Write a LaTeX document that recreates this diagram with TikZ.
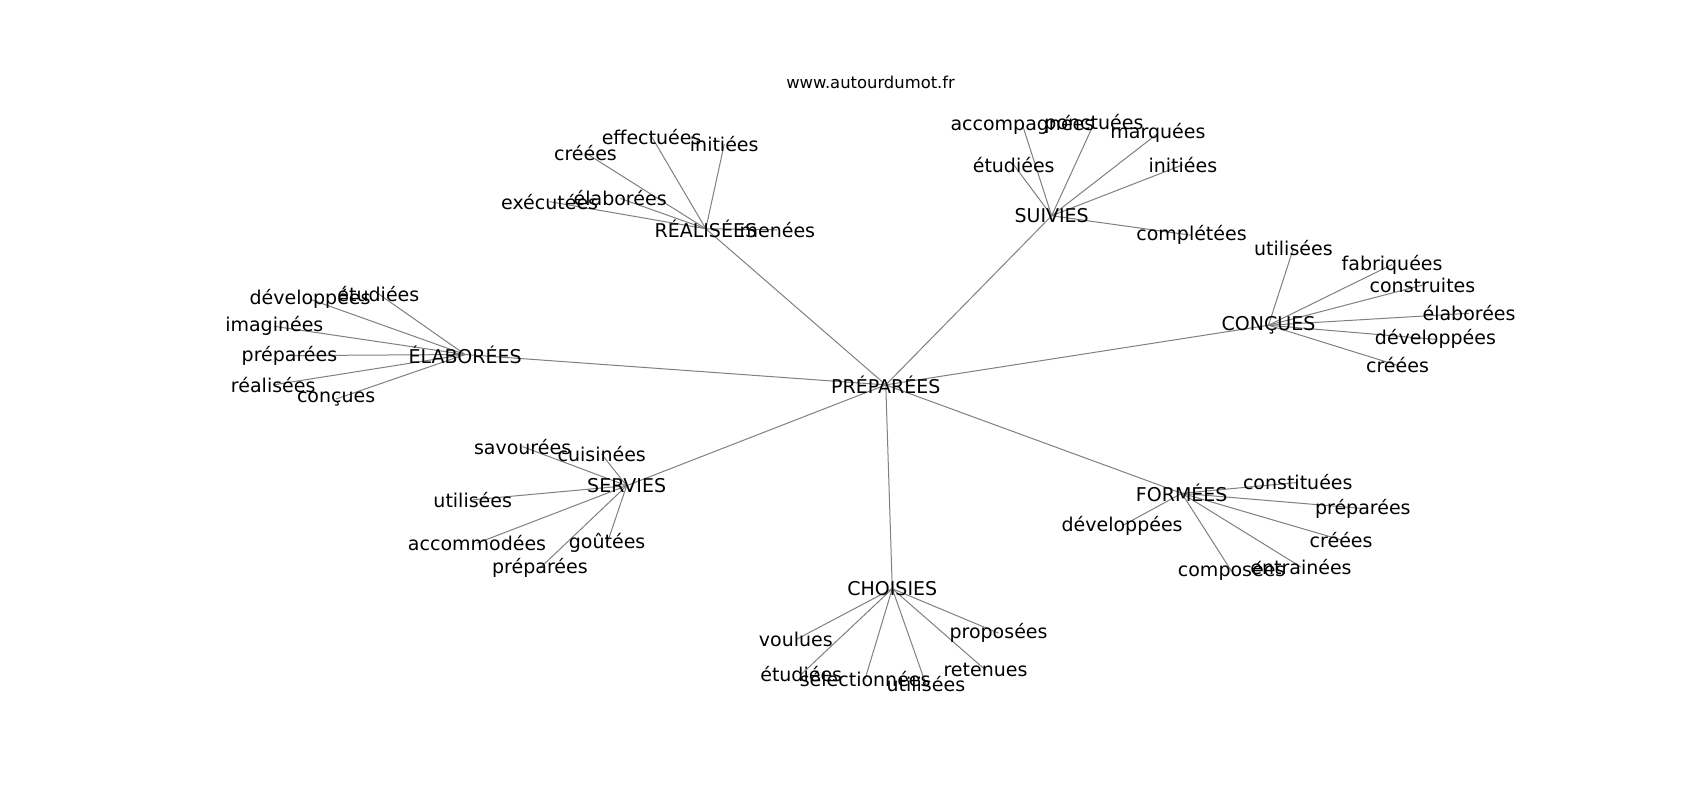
\documentclass[tikz,border=0pt]{standalone}
\usepackage{fontspec}
\setmainfont{DejaVu Sans}
\pgfdeclarelayer{background}
\pgfsetlayers{background,main}
\begin{document}
\begin{tikzpicture}[x=0.5421pt,y=-0.5421pt,
  lbl/.style={inner sep=0pt,anchor=center,font=\fontsize{9.5pt}{11pt}\selectfont,text=black},
  ttl/.style={inner sep=0pt,anchor=center,font=\fontsize{8.2pt}{10pt}\selectfont,text=black},
  edge/.style={draw=gray,line width=0.5pt}]
\useasboundingbox (0,0) rectangle (1568,738);
\node[ttl] (title) at (803,76) {www.autourdumot.fr};
% hubs
\node[lbl] (p) at (817,355) {PRÉPARÉES};
\node[lbl] (r) at (651,211) {RÉALISÉES};
\node[lbl] (s) at (970,199) {SUIVIES};
\node[lbl] (c) at (1170,300) {CONÇUES};
\node[lbl] (e) at (429,327) {ÉLABORÉES};
\node[lbl] (sv) at (578,448) {SERVIES};
\node[lbl] (f) at (1090,455) {FORMÉES};
\node[lbl] (ch) at (823,543) {CHOISIES};
% RÉALISÉES
\node[lbl] (r1) at (601,126) {effectuées};
\node[lbl] (r2) at (668,133) {initiées};
\node[lbl] (r3) at (540,141) {créées};
\node[lbl] (r4) at (572,183) {élaborées};
\node[lbl] (r5) at (507,186) {exécutées};
\node[lbl] (r6) at (717,212) {menées};
% SUIVIES
\node[lbl] (s1) at (943,115) {accompagnées};
\node[lbl] (s2) at (1009,114) {ponctuées};
\node[lbl] (s3) at (1068,123) {marquées};
\node[lbl] (s4) at (935,152) {étudiées};
\node[lbl] (s5) at (1091,152) {initiées};
\node[lbl] (s6) at (1099,217) {complétées};
% CONÇUES
\node[lbl] (c1) at (1193,229) {utilisées};
\node[lbl] (c2) at (1284,244) {fabriquées};
\node[lbl] (c3) at (1312,263) {construites};
\node[lbl] (c4) at (1355,289) {élaborées};
\node[lbl] (c5) at (1324,313) {développées};
\node[lbl] (c6) at (1289,337) {créées};
% ÉLABORÉES
\node[lbl] (e1) at (349,271) {étudiées};
\node[lbl] (e2) at (286,276) {développées};
\node[lbl] (e3) at (253,301) {imaginées};
\node[lbl] (e4) at (267,328) {préparées};
\node[lbl] (e5) at (252,355) {réalisées};
\node[lbl] (e6) at (310,368) {conçues};
% SERVIES
\node[lbl] (v1) at (482,412) {savourées};
\node[lbl] (v2) at (555,419) {cuisinées};
\node[lbl] (v3) at (436,461) {utilisées};
\node[lbl] (v4) at (440,501) {accommodées};
\node[lbl] (v5) at (560,501) {goûtées};
\node[lbl] (v6) at (498,524) {préparées};
% FORMÉES
\node[lbl] (f1) at (1197,445) {constituées};
\node[lbl] (f2) at (1257,469) {préparées};
\node[lbl] (f3) at (1035,485) {développées};
\node[lbl] (f4) at (1237,498) {créées};
\node[lbl] (f5) at (1200,523) {entrainées};
\node[lbl] (f6) at (1136,527) {composées};
% CHOISIES
\node[lbl] (h1) at (734,590) {voulues};
\node[lbl] (h2) at (921,584) {proposées};
\node[lbl] (h3) at (739,622) {étudiées};
\node[lbl] (h4) at (798,626) {sélectionnées};
\node[lbl] (h5) at (854,631) {utilisées};
\node[lbl] (h6) at (909,618) {retenues};
\begin{pgfonlayer}{background}
\fill[white] (0,0) rectangle (1568,738);
\foreach \h in {r,s,c,e,sv,f,ch} \draw[edge] (p.center) -- (\h.center);
\foreach \i in {1,...,6} {
  \draw[edge] (r.center) -- (r\i.center);
  \draw[edge] (s.center) -- (s\i.center);
  \draw[edge] (c.center) -- (c\i.center);
  \draw[edge] (e.center) -- (e\i.center);
  \draw[edge] (sv.center) -- (v\i.center);
  \draw[edge] (f.center) -- (f\i.center);
  \draw[edge] (ch.center) -- (h\i.center);
}
\end{pgfonlayer}
\end{tikzpicture}
\end{document}
